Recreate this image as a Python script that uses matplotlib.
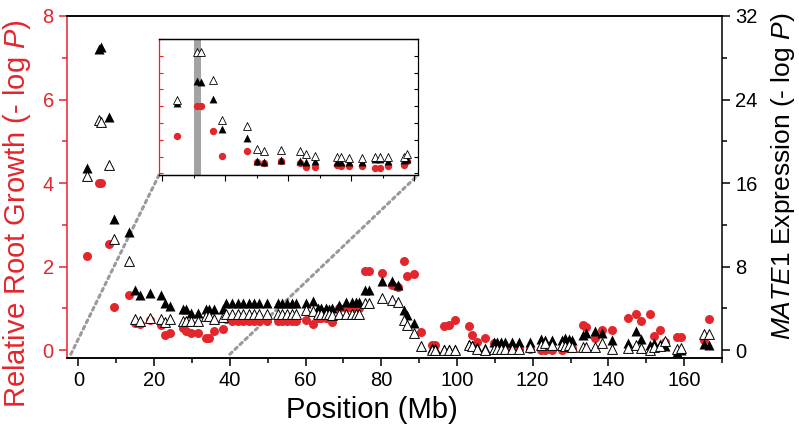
import numpy as np
import matplotlib
matplotlib.use('Agg')
import matplotlib.pyplot as plt
from matplotlib.patches import ConnectionPatch
from matplotlib.ticker import MultipleLocator

plt.rcParams['font.family'] = ['Liberation Sans', 'DejaVu Sans']
plt.rcParams['mathtext.fontset'] = 'custom'
plt.rcParams['mathtext.rm'] = 'Liberation Sans'
plt.rcParams['mathtext.it'] = 'Liberation Sans:italic'

RED = '#e3262b'

# position (Mb)
pos = [2.4, 5.5, 6.1, 8.1, 9.5, 13.4, 15.0, 16.2, 18.9, 21.8, 22.9, 24.3,
       27.7, 28.4, 29.7, 31.7, 33.7, 34.6, 35.8, 38.3, 38.9,
       40.7, 42.2, 43.5, 45.0, 46.3, 47.8, 49.9, 52.8, 53.9, 55.1, 56.5, 57.6,
       60.0, 61.9, 63.2, 64.1, 65.3, 66.1, 67.0, 68.9, 70.7, 72.3, 73.3, 74.2,
       75.8, 76.7, 80.3, 82.8, 84.3, 86.1, 86.9, 88.7, 90.4, 93.4, 94.2,
       96.6, 97.9, 99.5, 103.3, 103.9, 105.4, 107.4, 109.7, 110.6, 111.5,
       112.8, 114.6, 116.3, 119.4, 122.3, 123.3, 125.1, 127.7, 128.6, 129.5,
       130.5, 133.4, 134.0, 136.4, 138.3, 140.9, 145.2, 147.3, 148.6, 150.9,
       152.1, 153.6, 155.0, 158.0, 159.1, 165.3, 166.6]

# relative root growth (-log P), left axis
root_growth = [2.25, 4.0, 4.0, 2.55, 1.02, 1.32, 0.66, 0.62, 0.72, 0.60, 0.36, 0.40,
               0.52, 0.46, 0.42, 0.42, 0.30, 0.30, 0.46, 0.50, 0.75,
               0.70, 0.70, 0.70, 0.70, 0.70, 0.70, 0.70, 0.70, 0.70, 0.70, 0.70, 0.70,
               0.72, 0.62, 0.76, 0.76, 0.78, 0.76, 0.68, 1.0, 1.0, 1.0, 1.0, 1.0,
               1.90, 1.90, 1.84, 1.56, 1.50, 2.14, 1.78, 1.81, 0.44, 0.12, 0.12,
               0.57, 0.60, 0.72, 0.57, 0.36, 0.20, 0.28, 0.18, 0.05, 0.05,
               0.02, 0.02, 0.02, 0.02, 0.0, 0.0, 0.0, 0.0, 0.05, 0.05,
               0.05, 0.60, 0.56, 0.30, 0.48, 0.48, 0.77, 0.86, 0.69, 0.86,
               0.34, 0.48, 0.20, 0.32, 0.32, 0.24, 0.74]

# MATE1 expression (-log P), right axis
mate1_filled = [17.4, 28.8, 29.0, 22.3, 12.6, 11.3, 5.8, 5.3, 5.5, 5.3, 4.5, 4.2,
                3.9, 3.9, 3.6, 3.6, 3.9, 3.9, 3.9, 3.9, 4.5,
                4.5, 4.5, 4.5, 4.5, 4.5, 4.5, 4.5, 4.5, 4.5, 4.5, 4.5, 4.5,
                4.5, 4.7, 4.0, 4.0, 4.0, 3.9, 4.0, 4.3, 4.6, 4.6, 4.6, 4.6,
                5.8, 5.8, 6.6, 6.6, 6.2, 3.8, 3.4, 2.6, 0.4, 0.2, 0.2,
                0.1, 0.1, 0.1, 0.6, 0.5, 0.3, 0.2, 0.8, 0.8, 0.8,
                0.8, 0.8, 0.8, 0.8, 1.1, 1.0, 1.0, 1.0, 1.2, 1.1,
                1.0, 1.4, 1.6, 1.8, 1.6, 1.0, 0.7, 1.8, 1.1, 0.5,
                0.7, 0.6, 0.4, -0.2, 0.0, 0.6, 0.5]
mate1_open = [16.7, 22.0, 21.8, 17.7, 10.6, 8.5, 3.0, 2.8, 3.1, 3.0, 2.7, 3.0,
              2.8, 2.8, 2.8, 2.8, 3.3, 3.3, 3.0, 3.2, 3.5,
              3.5, 3.5, 3.5, 3.5, 3.5, 3.5, 3.5, 3.5, 3.5, 3.5, 3.5, 3.5,
              3.8, 3.7, 3.5, 3.5, 3.5, 3.5, 3.4, 3.5, 3.5, 3.5, 3.5, 3.5,
              4.5, 4.5, 5.0, 4.8, 4.6, 2.9, 2.4, 1.6, 0.4, 0.0, 0.0,
              0.0, 0.0, 0.0, 0.5, 0.4, 0.1, 0.0, 0.1, 0.1, 0.1,
              0.1, 0.1, 0.1, 0.3, 0.5, 0.7, 0.5, 0.5, 0.4, 0.5,
              0.3, 0.3, 0.3, 0.3, 0.7, 0.1, 0.2, 0.5, 0.2, 0.0,
              0.3, 0.4, 0.9, 0.1, 0.2, 1.5, 1.5]

mate1_band = (5.1, 6.2)   # shaded region in the inset
inset_xlim = (-0.5, 40.6)

pos = np.array(pos)
root_growth = np.array(root_growth)
mate1_filled = np.array(mate1_filled)
mate1_open = np.array(mate1_open)

fig = plt.figure(figsize=(7.99, 4.38), dpi=100)
ax = fig.add_axes([0.0839, 0.1826, 0.8197, 0.7809])
ax2 = ax.twinx()

ax.scatter(pos, root_growth, s=42, color=RED, lw=0, zorder=3)
ax2.scatter(pos, mate1_filled, s=52, marker='^', color='black', lw=0, zorder=3)
ax2.scatter(pos, mate1_open, s=50, marker='^', facecolor='white',
            edgecolor='black', lw=0.7, zorder=4)

ax.set_xlim(-3, 170)
ax.set_ylim(-0.19, 8)
ax2.set_ylim(-0.76, 32)

ax.xaxis.set_major_locator(MultipleLocator(20))
ax.xaxis.set_minor_locator(MultipleLocator(10))
ax.yaxis.set_major_locator(MultipleLocator(2))
ax.yaxis.set_minor_locator(MultipleLocator(1))
ax2.yaxis.set_major_locator(MultipleLocator(8))
ax2.yaxis.set_minor_locator(MultipleLocator(4))

for a in (ax, ax2):
    for s in a.spines.values():
        s.set_linewidth(1.1)
ax.spines['left'].set_color(RED)
ax.spines['right'].set_visible(False)
ax2.spines['left'].set_visible(False)

ax.tick_params(axis='x', which='both', direction='out', labelsize=14.5, width=1.1)
ax.tick_params(axis='x', which='major', length=6)
ax.tick_params(axis='x', which='minor', length=3.5)
ax.tick_params(axis='y', which='both', direction='out', colors=RED, labelsize=14.5, width=1.1)
ax.tick_params(axis='y', which='major', length=6)
ax.tick_params(axis='y', which='minor', length=3.5)
ax2.tick_params(axis='y', which='both', direction='out', labelsize=14.5, width=1.1)
ax2.tick_params(axis='y', which='major', length=6)
ax2.tick_params(axis='y', which='minor', length=3.5)

fig.text(372 / 799, 1 - 410 / 438, 'Position (Mb)', ha='center', va='center', fontsize=21)
fig.text(17 / 799, 1 - 214 / 438, r'Relative Root Growth (- log $\mathit{P}$)',
         rotation=90, ha='center', va='center', fontsize=21, color=RED)
fig.text(783 / 799, 1 - 176 / 438, r'$\mathit{MATE1}$ Expression (- log $\mathit{P}$)',
         rotation=90, ha='center', va='center', fontsize=19)

# inset: zoom on the first 40 Mb
ax_in = fig.add_axes([159 / 799, 1 - 175 / 438, 259 / 799, 136 / 438])
ax_in.set_zorder(5)
ax_in.set_facecolor('white')
ax_in2 = ax_in.twinx()
ax_in2.set_zorder(6)

sel = pos <= inset_xlim[1]
ax_in.axvspan(*mate1_band, color='#a3a3a3', lw=0, zorder=1)
ax_in.scatter(pos[sel], root_growth[sel], s=28, color=RED, lw=0, zorder=3)
ax_in2.scatter(pos[sel], mate1_open[sel], s=32, marker='^', color='black', lw=0, zorder=3)
ax_in2.scatter(pos[sel], mate1_filled[sel], s=32, marker='^', facecolor='white',
               edgecolor='black', lw=0.6, zorder=4)

ax_in.set_xlim(*inset_xlim)
ax_in.set_ylim(-0.1, 8)
ax_in2.set_ylim(-0.4, 32)
ax_in.xaxis.set_major_locator(MultipleLocator(10))
ax_in.xaxis.set_minor_locator(MultipleLocator(5))
ax_in.yaxis.set_major_locator(MultipleLocator(1))
ax_in2.yaxis.set_major_locator(MultipleLocator(4))
ax_in.tick_params(axis='x', which='both', direction='out', labelbottom=False, width=0.8)
ax_in.tick_params(axis='x', which='major', length=4)
ax_in.tick_params(axis='x', which='minor', length=2.5)
ax_in.tick_params(axis='y', direction='in', length=3, width=0.8, colors=RED, labelleft=False)
ax_in2.tick_params(axis='y', direction='in', length=3, width=0.8, labelright=False)
ax_in.spines['left'].set_color(RED)
ax_in.spines['right'].set_visible(False)
ax_in2.spines['left'].set_visible(False)
for a in (ax_in, ax_in2):
    for s in a.spines.values():
        s.set_linewidth(0.9)

# dotted guide lines from main axis to inset corners
for x0, corner in ((-2.0, (0, 0)), (40.0, (1, 0))):
    con = ConnectionPatch(xyA=(x0, -0.1), coordsA='data', axesA=ax,
                          xyB=corner, coordsB='axes fraction', axesB=ax_in,
                          color='#9a9a9a', lw=2.2, linestyle=(0, (1, 1.3)))
    con.set_zorder(1)
    ax.add_artist(con)

fig.savefig('out.png', dpi=100)
